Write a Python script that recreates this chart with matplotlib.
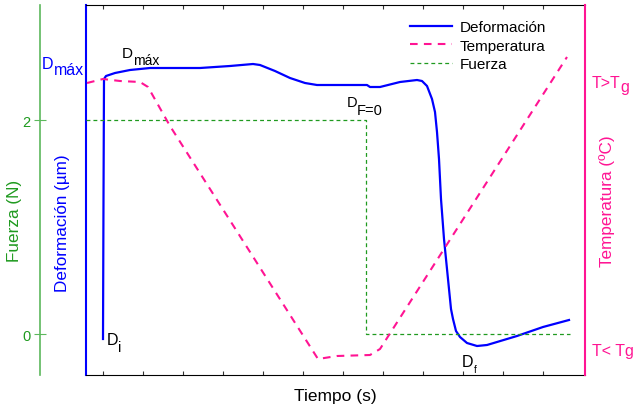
import matplotlib
matplotlib.use("Agg")
import matplotlib.pyplot as plt

plt.rcParams['font.family'] = ['Liberation Sans', 'DejaVu Sans']
plt.rcParams['lines.scale_dashes'] = False

# deformation curve (time in s, deformation in um, both arbitrary units)
t_def = [0, 0.125, 0.25, 0.75, 3, 6.75, 11.75, 18, 24.25, 31.75, 37.5, 39.25, 43, 46.75,
         50.5, 53.5, 59.25, 66, 66.75, 69.25, 74.25, 78.5, 79.75, 81, 82.25, 83, 83.5,
         84, 84.5, 85.25, 86.25, 87, 87.5, 88.25, 89.25, 91, 93.5, 96, 98.5, 103.5, 110, 116.5]
deform = [3.6, 17.6, 29.6, 29.9, 30.2, 30.5, 30.7, 30.7, 30.7, 30.9, 31.1, 31.0, 30.4, 29.7,
          29.2, 29.0, 29.0, 29.0, 28.8, 28.8, 29.3, 29.5, 29.4, 28.9, 27.6, 26.3, 24.3,
          21.6, 17.6, 13.6, 9.6, 6.6, 5.6, 4.4, 3.8, 3.2, 2.9, 3.0, 3.3, 3.9, 4.8, 5.5]

# temperature program
t_temp = [-4, 0, 4.25, 9.25, 11.25, 16.75, 53.75, 58.5, 66.75, 69.25, 116]
temp = [29.2, 29.6, 29.4, 29.3, 28.8, 24.9, 1.6, 1.9, 2.0, 2.6, 31.8]

# force
t_force = [-4.25, 65.75, 65.75, 116.75]
force = [2, 2, 0, 0]

blue = '#0000ff'
pink = '#ff1493'
green = '#1f9a1f'

fig = plt.figure(figsize=(6.36, 4.10), dpi=100)
ax = fig.add_axes([86/636, 34/410, 499/636, 370/410])
ax.set_xlim(-4.25, 120.5)
ax.set_ylim(0, 37)

ax_f = ax.twinx()
ax_f.set_ylim(-0.383, 3.075)
ax_t = ax.twinx()
ax_t.set_ylim(0, 37)

l1, = ax.plot(t_def, deform, color=blue, lw=1.6, zorder=5)
l2, = ax_t.plot(t_temp, temp, color=pink, lw=1.5, dashes=(5.5, 4.5))
l3, = ax_f.plot(t_force, force, color=green, lw=0.9, dashes=(2.8, 2.2))

# spines
ax.spines['left'].set_color(blue)
ax.spines['left'].set_linewidth(1.5)
ax.spines['right'].set_visible(False)
ax.set_xticks(range(0, 120, 10))
ax.tick_params(axis='x', direction='in', length=3, top=True, labelbottom=False, color='#333333')
ax.set_yticks([])

ax_t.spines['right'].set_color(pink)
ax_t.spines['right'].set_linewidth(1.5)
for s in ['left', 'top', 'bottom']:
    ax_t.spines[s].set_visible(False)
ax_t.set_yticks([])

ax_f.spines['left'].set_position(('axes', -46/499))
ax_f.spines['left'].set_color('#5cb85c')
ax_f.spines['left'].set_linewidth(1.2)
ax_f.spines['left'].set_visible(True)
for s in ['right', 'top', 'bottom']:
    ax_f.spines[s].set_visible(False)
ax_f.yaxis.set_ticks_position('left')
ax_f.set_yticks([0, 2])
ax_f.tick_params(axis='y', direction='inout', length=8, color='#5cb85c',
                 labelcolor=green, labelsize=10.5, pad=3)


def px(x, y):
    return x / 636, 1 - y / 410


# axis labels
fig.text(*px(15, 221), 'Fuerza (N)', color=green, rotation=90,
         ha='center', va='center', fontsize=12.3)
fig.text(*px(62, 223), 'Deformación (µm)', color=blue, rotation=90,
         ha='center', va='center', fontsize=12.3)
fig.text(*px(607, 201), 'Temperatura (ºC)', color=pink, rotation=90,
         ha='center', va='center', fontsize=12.3)
fig.text(*px(335, 397), 'Tiempo (s)', color='black',
         ha='center', va='center', fontsize=12.5)

# labels with subscripts: (main, sub, color, x, baseline, size, sub x, sub baseline, sub size)
marks = [
    ('D', 'máx', blue, 42, 69, 11.5, 54, 75, 11.5),
    ('D', 'máx', 'black', 122, 58, 11, 133, 65, 10),
    ('D', 'F=0', 'black', 347, 107, 10.5, 357, 115, 10.5),
    ('D', 'i', 'black', 107, 345, 11.5, 118, 352, 10.5),
    ('D', 'f', 'black', 462, 367, 11.5, 474, 373, 7),
    ('T>T', 'g', pink, 592, 88, 11.5, 620, 92, 11.5),
]
for main, sub, c, x, y, s, sx, sy, ss in marks:
    fig.text(*px(x, y), main, color=c, fontsize=s, ha='left', va='baseline')
    fig.text(*px(sx, sy), sub, color=c, fontsize=ss, ha='left', va='baseline')
fig.text(*px(592, 356), 'T< Tg', color=pink, fontsize=11.5, ha='left', va='baseline')

ax.legend([l1, l2, l3], ['Deformación', 'Temperatura', 'Fuerza'],
          loc='upper left', bbox_to_anchor=((404 - 86)/499, (376 - 15)/370),
          frameon=False, fontsize=11, handlelength=2.75, handletextpad=0.52,
          labelspacing=0.3, borderaxespad=0)

fig.savefig('out.png', dpi=100)
